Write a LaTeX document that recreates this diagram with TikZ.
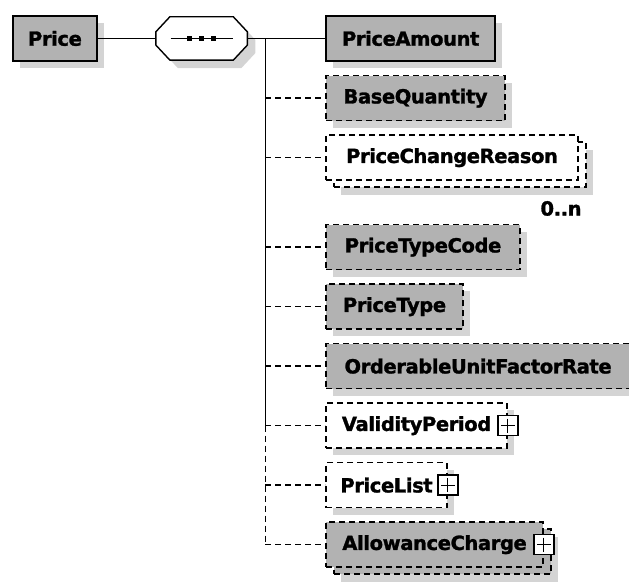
\documentclass[tikz,border=0pt]{standalone}
\usepackage{fontspec}
\newfontfamily\xsdfont{DejaVu Sans Bold}[FakeBold=1.4, LetterSpace=-2]
\usetikzlibrary{positioning,shadows,calc}
\definecolor{elemfill}{RGB}{178,178,178}
\definecolor{shadefill}{RGB}{212,212,212}
\newcommand\octpath{([xshift=14pt]seq.north west) -- ([xshift=-14pt]seq.north east)
  -- ([yshift=-15pt]seq.north east) -- ([yshift=15pt]seq.south east)
  -- ([xshift=-14pt]seq.south east) -- ([xshift=14pt]seq.south west)
  -- ([yshift=15pt]seq.south west) -- ([yshift=-15pt]seq.north west) -- cycle}

\begin{document}
\begin{tikzpicture}[
  x=1pt, y=1pt, node distance=13pt,
  font=\xsdfont\fontsize{19.5}{21}\selectfont,
  elem/.style={draw=black, line width=1.5pt, dash pattern=on 6pt off 4pt, fill=elemfill,
               minimum height=45pt, inner sep=0pt},
  req/.style={solid, line width=1.9pt},
  single/.style={general shadow={shadow xshift=7pt, shadow yshift=-7pt, fill=shadefill}},
  many/.style={general shadow={shadow xshift=15pt, shadow yshift=-15pt, fill=shadefill},
               general shadow={shadow xshift=8pt, shadow yshift=-7pt, fill=#1, draw=black,
                               line width=1.5pt, dash pattern=on 6pt off 4pt}},
  seq/.style={minimum width=91pt, minimum height=43pt, inner sep=0pt},
  seqline/.style={draw=black, line width=1.4pt, fill=white},
  expander/.style={draw=black, solid, line width=1.4pt, fill=white, minimum size=20pt, inner sep=0pt,
                   path picture={\draw[line width=1.2pt]
                     ([yshift=-3pt]path picture bounding box.north) -- ([yshift=3pt]path picture bounding box.south)
                     ([xshift=3pt]path picture bounding box.west) -- ([xshift=-3pt]path picture bounding box.east);}},
  occurs/.style={inner sep=0pt},
  link/.style={draw=black, line width=1.6pt},
  optdash/.style={line width=1.5pt, dash pattern=on 6pt off 4pt}]
\useasboundingbox (0,0) rectangle (629,-587);
\node[elem, req, single, minimum width=84pt, anchor=north west] (price) at (12,-15) {Price};
\node[seq, right=58pt of price] (seq) {};
\node[elem, req, single, minimum width=169pt, right=78pt of seq] (amount) {PriceAmount};
\node[elem, single, minimum width=179pt, below=of amount.south west, anchor=north west] (basequantity) {BaseQuantity};
\node[elem, many=white, fill=white, minimum width=252pt, below=of basequantity.south west, anchor=north west] (reason) {PriceChangeReason};
\node[elem, single, minimum width=194pt, below=43pt of reason.south west, anchor=north west] (typecode) {PriceTypeCode};
\node[elem, single, minimum width=137pt, below=of typecode.south west, anchor=north west] (pricetype) {PriceType};
\node[elem, single, minimum width=304pt, below=of pricetype.south west, anchor=north west] (ourate) {OrderableUnitFactorRate};
\node[elem, single, fill=white, minimum width=181pt, below=of ourate.south west, anchor=north west] (validity) {ValidityPeriod\hspace{12pt}};
\node[elem, single, fill=white, minimum width=121pt, below=of validity.south west, anchor=north west] (pricelist) {PriceList\hspace{12pt}};
\node[elem, many=elemfill, minimum width=217pt, below=of pricelist.south west, anchor=north west] (allowance) {AllowanceCharge\hspace{12pt}};
\node[expander] (validityplus) at (validity.east) {};
\node[expander] (priceplus) at (pricelist.east) {};
\node[expander] (allowanceplus) at (allowance.east) {};
\node[occurs, below left=20pt and -3pt of reason.south east] (reasonocc) {0..n};
\node[occurs, below left=22pt and -2pt of allowance.south east] (allowanceocc) {0..n};
% sequence compositor
\fill[shadefill, transform canvas={shift={(8pt,-8pt)}}] \octpath;
\filldraw[seqline] \octpath;
\draw[link] ([xshift=-31pt]seq.center) -- ([xshift=31pt]seq.center);
\foreach \dx in {-12,0,12}
  \fill ([xshift=\dx pt]seq.center) +(-2.5,-2.5) rectangle +(2.5,2.5);
% connectors
\draw[link] (price) -- (seq);
\draw[link] (seq.east) -- ++(18,0) coordinate (spine) -- (amount.west);
\draw[link] (spine) -- (spine |- validity.west);
\draw[link, optdash] (spine |- validity.west) -- (spine |- allowance.west);
\foreach \el in {basequantity,reason,typecode,pricetype,ourate,validity,pricelist,allowance}
  \draw[link, optdash] (spine |- \el.west) -- (\el.west);
\end{tikzpicture}
\end{document}
